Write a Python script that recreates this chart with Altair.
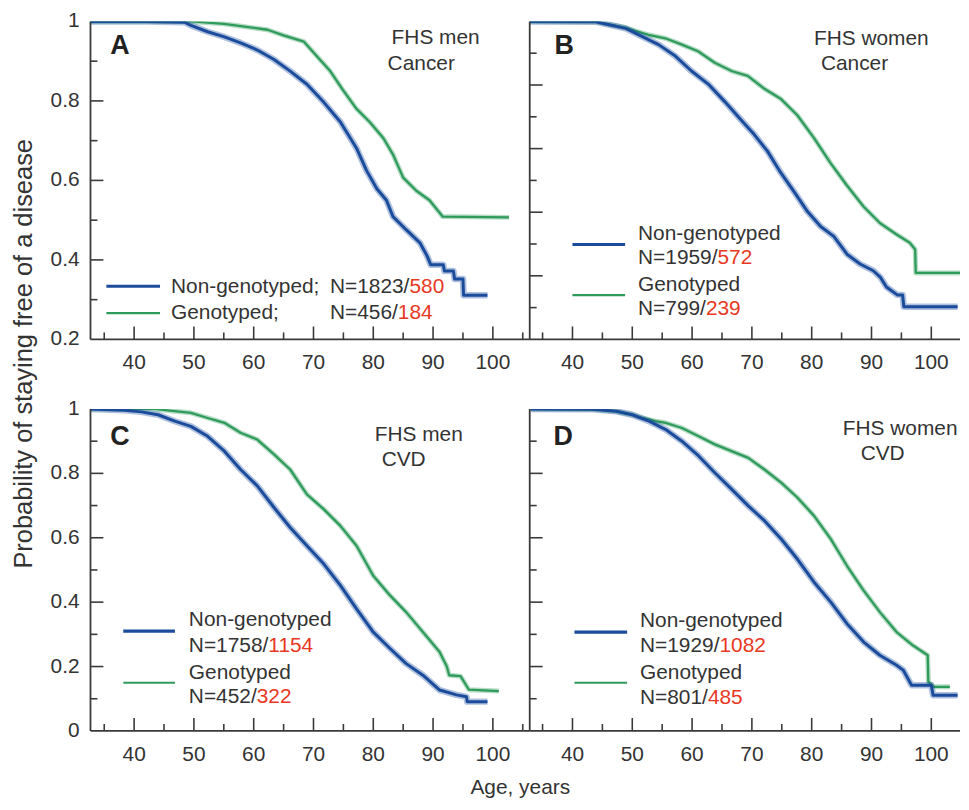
import altair as alt
import pandas as pd

# ---------------- data ----------------
A_non_age = [32.7, 42.0, 48.4, 49.5, 52.3, 55.1, 57.8, 60.6, 63.4, 66.1, 68.9, 71.7, 74.5, 77.2, 78.9, 80.6, 82.2, 83.3, 85.5, 87.8, 89.0, 89.6, 91.7, 91.9, 93.4, 93.6, 95.0, 95.1, 99.1]
A_non_p = [1.0, 1.0, 0.998, 0.990, 0.974, 0.961, 0.946, 0.928, 0.904, 0.875, 0.842, 0.797, 0.747, 0.681, 0.624, 0.579, 0.550, 0.509, 0.476, 0.443, 0.41, 0.388, 0.388, 0.372, 0.372, 0.352, 0.352, 0.311, 0.311]
A_gen_age = [32.7, 49.5, 55.0, 62.3, 65.0, 68.4, 70.6, 72.8, 75.0, 77.2, 79.4, 81.7, 83.3, 85.0, 87.2, 89.4, 91.6, 102.7]
A_gen_p = [1.0, 1.0, 0.994, 0.979, 0.965, 0.949, 0.912, 0.875, 0.826, 0.780, 0.747, 0.706, 0.665, 0.607, 0.574, 0.550, 0.509, 0.507]

B_non_age = [32.9, 43.9, 45.5, 48.9, 51.6, 54.4, 57.2, 59.9, 62.7, 65.5, 68.2, 70.4, 72.6, 74.8, 77.1, 79.3, 81.5, 83.7, 85.9, 88.1, 90.3, 91.5, 92.5, 94.3, 95.2, 95.4, 104.4]
B_non_p = [1.0, 0.999, 0.992, 0.978, 0.953, 0.927, 0.891, 0.844, 0.803, 0.747, 0.690, 0.644, 0.592, 0.525, 0.463, 0.402, 0.355, 0.324, 0.268, 0.237, 0.216, 0.195, 0.165, 0.140, 0.140, 0.103, 0.103]
B_gen_age = [32.9, 43.9, 45.5, 48.9, 50.5, 52.7, 55.5, 58.3, 61.0, 63.8, 66.6, 69.3, 72.1, 74.8, 77.6, 80.4, 83.1, 85.9, 88.7, 91.4, 94.2, 96.4, 97.3, 97.4, 105.0]
B_gen_p = [1.0, 0.999, 0.993, 0.980, 0.970, 0.958, 0.947, 0.927, 0.906, 0.870, 0.844, 0.829, 0.788, 0.757, 0.705, 0.633, 0.556, 0.484, 0.417, 0.366, 0.330, 0.304, 0.283, 0.209, 0.209]

C_non_age = [31.8, 38.4, 41.2, 44.0, 46.8, 49.5, 52.3, 55.1, 57.8, 60.6, 63.4, 66.1, 68.9, 71.7, 74.5, 77.2, 80.0, 82.8, 85.5, 88.3, 91.1, 93.9, 95.6, 95.7, 99.1]
C_non_p = [1.0, 0.996, 0.991, 0.982, 0.962, 0.946, 0.915, 0.869, 0.812, 0.761, 0.694, 0.632, 0.575, 0.519, 0.452, 0.379, 0.307, 0.256, 0.209, 0.173, 0.127, 0.112, 0.106, 0.091, 0.091]
C_gen_age = [31.8, 43.4, 46.8, 49.5, 52.3, 55.1, 57.8, 60.6, 63.4, 66.1, 68.9, 71.7, 74.5, 77.2, 80.0, 82.8, 85.5, 88.3, 91.1, 92.3, 92.7, 94.6, 96.0, 101.0]
C_gen_p = [1.0, 1.0, 0.993, 0.988, 0.972, 0.957, 0.926, 0.905, 0.859, 0.812, 0.735, 0.689, 0.637, 0.575, 0.482, 0.421, 0.369, 0.307, 0.245, 0.20, 0.173, 0.170, 0.128, 0.124]

D_non_age = [33.0, 43.4, 47.3, 50.0, 52.8, 55.6, 58.3, 61.1, 63.8, 66.6, 69.4, 72.1, 74.9, 77.6, 80.4, 83.2, 85.9, 88.7, 91.4, 94.2, 95.3, 96.7, 100.0, 100.3, 104.4]
D_non_p = [1.0, 0.999, 0.993, 0.982, 0.962, 0.936, 0.900, 0.854, 0.802, 0.751, 0.699, 0.653, 0.596, 0.534, 0.462, 0.400, 0.333, 0.276, 0.235, 0.204, 0.189, 0.142, 0.142, 0.111, 0.111]
D_gen_age = [33.0, 43.4, 47.3, 50.0, 51.7, 53.9, 55.6, 58.3, 61.1, 63.8, 66.6, 69.4, 72.1, 74.9, 77.6, 80.4, 83.2, 85.9, 88.7, 91.4, 94.2, 96.9, 99.4, 99.5, 100.4, 103.1]
D_gen_p = [1.0, 0.999, 0.993, 0.982, 0.972, 0.962, 0.957, 0.941, 0.915, 0.890, 0.869, 0.848, 0.812, 0.771, 0.725, 0.668, 0.596, 0.513, 0.436, 0.369, 0.307, 0.266, 0.235, 0.153, 0.137, 0.137]

x_labels = [40, 50, 60, 70, 80, 90, 100]
x_minor_wide = [35, 45, 55, 65, 75, 85, 95, 105]
x_minor_narrow = [35, 45, 55, 65, 75, 85, 95]
yA_labels = [0.2, 0.4, 0.6, 0.8, 1.0]
yA_major = [0.4, 0.6, 0.8]
yA_minor = [0.3, 0.5, 0.7, 0.9]
y01_labels = [0.0, 0.2, 0.4, 0.6, 0.8, 1.0]
y01_major = [0.2, 0.4, 0.6, 0.8]
y01_minor = [0.1, 0.3, 0.5, 0.7, 0.9]

legend_names = ["Non-genotyped", "Genotyped"]
counts = {
    "A": [("1823", "580"), ("456", "184")],
    "B": [("1959", "572"), ("799", "239")],
    "C": [("1758", "1154"), ("452", "322")],
    "D": [("1929", "1082"), ("801", "485")],
}
panel_titles = {"A": ("FHS men", "Cancer"), "B": ("FHS women", "Cancer"),
                "C": ("FHS men", "CVD"), "D": ("FHS women", "CVD")}
y_title = "Probability of staying free of a disease"
x_title = "Age, years"

# ---------------- style ----------------
FONT = "Liberation Sans"
TXT = "#333333"
AXC = "#3a3a3a"
BLUE = "#1b4c9c"
GREEN = "#2f9b5b"
RED = "#e8381f"
FS = 21
H_TOP, H_BOT = 320, 324
DY_TOP, DY_BOT = -4.5, 0.5     # shift of text positions (reference px) per row
W_LEFT, W_RIGHT = 438, 433
XDOM_LEFT = [32.7, 105.5]
XDOM_RIGHT = [32.85, 104.8]

ADV = {"N": 0.722, "=": 0.584, "/": 0.278}
for d in "0123456789":
    ADV[d] = 0.556


def tw(s, size=FS):
    return sum(ADV.get(c, 0.556) for c in s) * size


def one(v):
    return alt.Data(values=[{"t": v}])


def text(s, x, y, size=FS, color=TXT, bold=False, align="left", angle=0, baseline="alphabetic"):
    return alt.Chart(one(s)).mark_text(
        align=align, baseline=baseline, fontSize=size, font=FONT, color=color,
        fontWeight="bold" if bold else "normal", angle=angle,
    ).encode(x=alt.value(x), y=alt.value(y), text="t:N")


def seg(x1, x2, y, color, w):
    return alt.Chart(one("s")).mark_rule(color=color, strokeWidth=w).encode(
        x=alt.value(x1), x2=alt.value(x2), y=alt.value(y))


def vseg(x, y1, y2, color, w):
    return alt.Chart(one("s")).mark_rule(color=color, strokeWidth=w).encode(
        x=alt.value(x), y=alt.value(y1), y2=alt.value(y2))


def curve(ages, ps, color, core_w, halo_w, halo_op, xs, ys):
    df = pd.DataFrame({"age": ages, "p": ps, "i": list(range(len(ages)))})
    base = alt.Chart(df)
    enc = dict(x=alt.X("age:Q", scale=xs, axis=None),
               y=alt.Y("p:Q", scale=ys, axis=None),
               order="i:Q")
    halo = base.mark_line(color=color, strokeWidth=halo_w, opacity=halo_op, clip=True,
                          strokeJoin="round").encode(**enc)
    core = base.mark_line(color=color, strokeWidth=core_w, clip=True,
                          strokeJoin="round").encode(**enc)
    return [halo, core]


def xticks(vals, length, xs, h):
    return alt.Chart(pd.DataFrame({"v": vals})).mark_rule(color=AXC, strokeWidth=1.6).encode(
        x=alt.X("v:Q", scale=xs, axis=None), y=alt.value(h), y2=alt.value(h - length))


def yticks(vals, length, ys):
    return alt.Chart(pd.DataFrame({"v": vals})).mark_rule(color=AXC, strokeWidth=1.6).encode(
        y=alt.Y("v:Q", scale=ys, axis=None), x=alt.value(0), x2=alt.value(length))


def xlabels(xs, h):
    return alt.Chart(pd.DataFrame({"v": x_labels})).mark_text(
        align="center", baseline="alphabetic", fontSize=FS, font=FONT, color=TXT).encode(
        x=alt.X("v:Q", scale=xs, axis=None), y=alt.value(h + 30),
        text=alt.Text("v:Q", format="d"))


def ylabels(vals, ys):
    return alt.Chart(pd.DataFrame({"v": vals})).mark_text(
        align="right", baseline="middle", fontSize=FS, font=FONT, color=TXT).encode(
        y=alt.Y("v:Q", scale=ys, axis=None), x=alt.value(-11),
        text=alt.Text("v:Q", format="~g"))


def panel(key, width, h, dy, xdom, xminor, ydom, ylabs, ymajor, yminor, show_ylabels,
          data, letter_pos, title_pos, leg_seg, leg_text, extra=(), axis_ext=0):
    xs = alt.Scale(domain=xdom, nice=False, zero=False)
    ys = alt.Scale(domain=ydom, nice=False, zero=False)
    non_age, non_p, gen_age, gen_p = data
    layers = []
    layers += curve(gen_age, gen_p, GREEN, 2.3, 5.0, 0.35, xs, ys)
    layers += curve(non_age, non_p, BLUE, 3.0, 6.5, 0.35, xs, ys)
    # axes drawn by hand: domain lines, inward ticks, labels
    layers += [vseg(0, 0, h, AXC, 1.8), seg(0, width + axis_ext, h, AXC, 1.8),
               xticks(x_labels, 13, xs, h), xticks(xminor, 7, xs, h),
               yticks(ymajor, 13, ys), yticks(yminor, 7, ys), xlabels(xs, h)]
    if show_ylabels:
        layers.append(ylabels(ylabs, ys))

    layers.append(text(key, letter_pos[0], letter_pos[1] + dy, size=27, color="#222222", bold=True))
    t1, t2 = panel_titles[key]
    layers.append(text(t1, title_pos[0][0], title_pos[0][1] + dy))
    layers.append(text(t2, title_pos[1][0], title_pos[1][1] + dy))

    (sx1, sx2, sy_b, sy_g) = leg_seg
    layers.append(seg(sx1, sx2, sy_b + dy, BLUE, 3.2))
    layers.append(seg(sx1, sx2, sy_g + dy, GREEN, 2.2))
    for s, x, y, red in leg_text:
        layers.append(text(s, x, y + dy))
        if red is not None:
            layers.append(text(red, x + tw(s), y + dy, color=RED))
    layers += list(extra)
    return alt.layer(*layers).properties(width=width, height=h)


cA = counts["A"]
A = panel("A", W_LEFT, H_TOP, DY_TOP, XDOM_LEFT, x_minor_wide, [0.2, 1.0], yA_labels, yA_major, yA_minor, True,
          (A_non_age, A_non_p, A_gen_age, A_gen_p), (20, 37), ((303, 27), (299, 53)),
          (16, 70, 271, 298),
          [(legend_names[0] + ";", 81, 278, None), ("N=" + cA[0][0] + "/", 241, 278, cA[0][1]),
           (legend_names[1] + ";", 81, 304, None), ("N=" + cA[1][0] + "/", 241, 304, cA[1][1])],
          extra=[text(y_title, -67, 334.5, size=25.6, angle=270, align="center", baseline="middle")],
          axis_ext=4)

cB = counts["B"]
B = panel("B", W_RIGHT, H_TOP, DY_TOP, XDOM_RIGHT, x_minor_narrow, [0.0, 1.0], y01_labels, y01_major, y01_minor, False,
          (B_non_age, B_non_p, B_gen_age, B_gen_p), (25, 37), ((286, 28), (293, 53)),
          (43, 96, 229, 280),
          [(legend_names[0], 109, 224, None), ("N=" + cB[0][0] + "/", 109, 249, cB[0][1]),
           (legend_names[1], 109, 276, None), ("N=" + cB[1][0] + "/", 109, 300, cB[1][1])])

cC = counts["C"]
C = panel("C", W_LEFT, H_BOT, DY_BOT, XDOM_LEFT, x_minor_wide, [0.0, 1.0], y01_labels, y01_major, y01_minor, True,
          (C_non_age, C_non_p, C_gen_age, C_gen_p), (20, 36), ((286, 32), (293, 57)),
          (33, 85, 223, 275),
          [(legend_names[0], 99, 218, None), ("N=" + cC[0][0] + "/", 99, 244, cC[0][1]),
           (legend_names[1], 99, 271, None), ("N=" + cC[1][0] + "/", 99, 295, cC[1][1])],
          extra=[text(x_title, 432.5, H_BOT + 63, align="center")],
          axis_ext=4)

cD = counts["D"]
D = panel("D", W_RIGHT, H_BOT, DY_BOT, XDOM_RIGHT, x_minor_narrow, [0.0, 1.0], y01_labels, y01_major, y01_minor, False,
          (D_non_age, D_non_p, D_gen_age, D_gen_p), (24, 36), ((315, 26), (333, 51)),
          (45, 98, 224, 275),
          [(legend_names[0], 111, 219, None), ("N=" + cD[0][0] + "/", 111, 244, cD[0][1]),
           (legend_names[1], 111, 271, None), ("N=" + cD[1][0] + "/", 111, 296, cD[1][1])])

chart = alt.concat(A, B, C, D, columns=2, spacing={"row": 70, "column": 4},
                   bounds="flush").properties(
    padding={"left": 4, "top": 0, "right": 0, "bottom": 0},
    background="white",
).configure_view(stroke=None)

chart.save("out.html", embed_options={"renderer": "svg", "actions": False})
